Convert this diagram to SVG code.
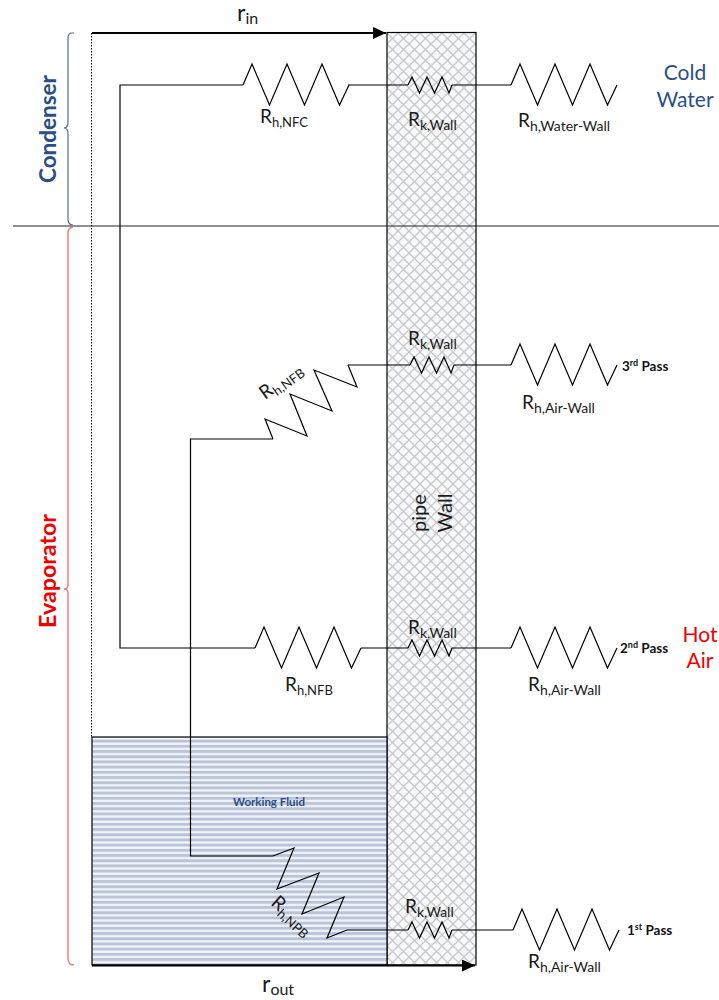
<svg xmlns="http://www.w3.org/2000/svg" width="719" height="1000" viewBox="0 0 719 1000">
<style>
text{font-family:Lato,Carlito,"Open Sans",sans-serif;fill:#1a1a1a}
.w{fill:none;stroke:#000;stroke-width:1.2;stroke-linejoin:miter}
.r{font-size:19px}
.s{font-size:14px}
.n{font-size:13px}
.b{font-size:13.5px;font-weight:700;fill:#111}
.up{font-size:9px}
</style>
<defs>
<pattern id="hatch" width="11" height="11" patternUnits="userSpaceOnUse" x="387" y="33">
<rect width="11" height="11" fill="#f8f9fc"/>
<path d="M0 0L11 11M11 0L0 11" stroke="#c8c8c8" stroke-width="1.3"/>
</pattern>
<pattern id="stripes" width="5.2" height="5.2" patternUnits="userSpaceOnUse" y="738">
<rect width="5.2" height="5.2" fill="#f4f6fa"/>
<rect y="1.6" width="5.2" height="3" fill="#b9c4d9"/>
</pattern>
<marker id="ah" markerWidth="14" markerHeight="12" refX="13" refY="6" orient="auto" markerUnits="userSpaceOnUse"><path d="M0 0L13 6L0 12Z" fill="#000"/></marker>
<path id="big" class="w" d="M0 0L9 -21L26.5 20L44 -21L61.5 20L79 -21L96.5 20L106 0"/>
<path id="small" class="w" d="M0 0L4 -8L11.500 8L19 -8L26.500 8L34 -8L41 8L44 0"/>
</defs>

<g id="wall">
<rect x="387" y="32.500" width="89" height="932.500" fill="url(#hatch)" stroke="#000" stroke-width="1.2"/>
<text transform="translate(426 513) rotate(-90)" text-anchor="middle" style="font-size:20px">pipe</text>
<text transform="translate(452 513) rotate(-90)" text-anchor="middle" style="font-size:20px">Wall</text>
</g>
<g id="working-fluid">
<rect x="92" y="737" width="295" height="228" fill="url(#stripes)" stroke="#000" stroke-width="1.2"/>
<text x="269" y="806" text-anchor="middle" style="font-size:11.500px;font-weight:700;fill:#2a4f86">Working Fluid</text>
</g>

<g id="connectors" fill="none" stroke="#000" stroke-width="1.200">
<path d="M91.500 33V737" stroke-width="1" stroke-dasharray="1.500 1.500"/>
<path d="M92 33H386" stroke-width="2" marker-end="url(#ah)"/>
<path d="M92 965.500H475" stroke-width="2" marker-end="url(#ah)"/>
<path d="M13 226H719" stroke="#222"/>
<path d="M243 85H120V648H255"/>
<path d="M348 85H408M452 85H511"/>
<path d="M348 365H410M454 365H511"/>
<path d="M361 648H408M452 648H511"/>
<path d="M273 439H190.500V856H273"/>
<path d="M347 930H408M452 930H513"/>
</g>

<g id="brace-condenser"><path d="M74 33H72Q68 33 68 38V122Q68 128 64 128Q68 128 68 134V219Q68 225 73 225" fill="none" stroke="#4d6f9e" stroke-width="1.200"/></g>
<g id="brace-evaporator"><path d="M73 227Q68 228 68 233V585Q68 589 64 589Q68 589 68 593V958Q68 965 74 965" fill="none" stroke="#f57373" stroke-width="1.400"/></g>

<g id="R-NFC"><use href="#big" x="243" y="85"/>
<text x="260" y="123" class="r">R<tspan class="n" dy="4">h,NFC</tspan></text></g>
<g id="Rk-1"><use href="#small" x="408" y="85"/>
<text x="408" y="126" class="r">R<tspan class="s" dy="4">k,Wall</tspan></text></g>
<g id="R-water"><use href="#big" x="511" y="85"/>
<text x="518" y="127" class="r">R<tspan class="s" dy="4">h,Water-Wall</tspan></text></g>

<g id="Rk-2"><use href="#small" x="410" y="365"/>
<text x="408" y="345" class="r">R<tspan class="s" dy="4">k,Wall</tspan></text></g>
<g id="R-air-3"><use href="#big" x="511" y="365"/>
<text x="522" y="409" class="r">R<tspan class="s" dy="4">h,Air-Wall</tspan></text></g>
<g id="pass-3"><text x="622" y="371" class="b">3<tspan class="up" dy="-5">rd</tspan><tspan dy="5"> Pass</tspan></text></g>
<g id="R-NFB-diag">
<path class="w" d="M348 365L357 387L314 370L332 411L290 394L307 436L265 419L273 439"/>
<text transform="translate(265 400) rotate(-36)" class="r">R<tspan class="n" dy="4">h,NFB</tspan></text>
</g>

<g id="R-NFB"><use href="#big" x="255" y="648"/>
<text x="285" y="691" class="r">R<tspan class="n" dy="4">h,NFB</tspan></text></g>
<g id="Rk-3"><use href="#small" x="408" y="648"/>
<text x="408" y="634" class="r">R<tspan class="s" dy="4">k,Wall</tspan></text></g>
<g id="R-air-2"><use href="#big" x="511" y="648"/>
<text x="528" y="691" class="r">R<tspan class="s" dy="4">h,Air-Wall</tspan></text></g>
<g id="pass-2"><text x="620" y="653" class="b">2<tspan class="up" dy="-5">nd</tspan><tspan dy="5"> Pass</tspan></text></g>

<g id="R-NPB">
<path class="w" d="M273 856L294 848L277 889L319 873L302 914L344 897L327 938L347 930"/>
<text transform="translate(270 904) rotate(42)" class="r">R<tspan class="n" dy="4">h,NPB</tspan></text>
</g>
<g id="Rk-4"><use href="#small" x="408" y="930"/>
<text x="405" y="913" class="r">R<tspan class="s" dy="4">k,Wall</tspan></text></g>
<g id="R-air-1"><use href="#big" x="513" y="930"/>
<text x="528" y="968" class="r">R<tspan class="s" dy="4">h,Air-Wall</tspan></text></g>
<g id="pass-1"><text x="627" y="935" class="b">1<tspan class="up" dy="-5">st</tspan><tspan dy="5"> Pass</tspan></text></g>

<g id="labels">
<text x="237" y="21" style="font-size:23px">r<tspan style="font-size:16px" dy="3">in</tspan></text>
<text x="262" y="992" style="font-size:23px">r<tspan style="font-size:16px" dy="3">out</tspan></text>
<text transform="translate(56 183) rotate(-90)" textLength="108" lengthAdjust="spacingAndGlyphs" style="font-size:22px;font-weight:700;fill:#2a4f86">Condenser</text>
<text transform="translate(56 628) rotate(-90)" textLength="114" lengthAdjust="spacingAndGlyphs" style="font-size:23px;font-weight:700;fill:#f00000">Evaporator</text>
<text x="685" y="80" text-anchor="middle" style="font-size:21px;fill:#2a4f86">Cold</text>
<text x="685" y="107" text-anchor="middle" style="font-size:21px;fill:#2a4f86">Water</text>
<text x="700" y="642" text-anchor="middle" style="font-size:21px;fill:#f00000">Hot</text>
<text x="700" y="668" text-anchor="middle" style="font-size:21px;fill:#f00000">Air</text>
</g>
</svg>
